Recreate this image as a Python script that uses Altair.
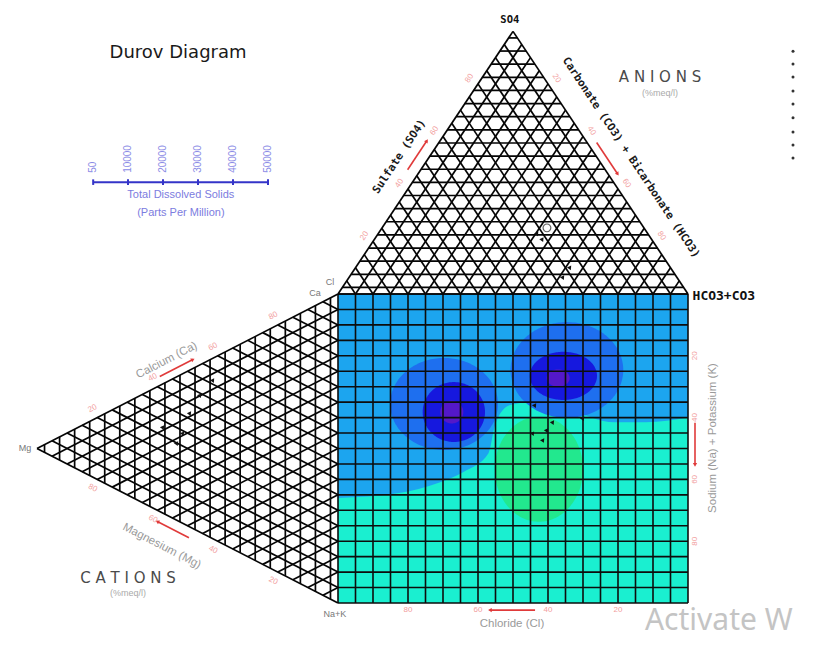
import altair as alt
import numpy as np
import pandas as pd

# ---------------- data (diagram units: the square is 0..100 x 0..100) ----------------
N_DIV = 20
TOP_APEX = (50.0, 185.0)    # SO4 vertex of the anion triangle
LEFT_APEX = (-86.0, 50.0)   # Mg vertex of the cation triangle

# filled contour zones of the square field
cyan_u = [0, 17, 29, 36, 43, 45, 49, 55, 66, 79, 88, 100]
cyan_v = [34, 35.5, 39, 42.5, 48.5, 58, 64, 65, 62.5, 58.5, 58.5, 60]
blob_name = ["green", "left_outer", "left_inner", "left_core", "right_outer", "right_inner", "right_core"]
blob_cu = [57.4, 30.3, 33.1, 32.5, 65.4, 64.4, 62.9]
blob_cv = [43.3, 64.4, 61.8, 61.8, 75.4, 73.5, 72.8]
blob_ru = [12.6, 15.4, 8.9, 3.3, 16.1, 9.6, 3.3]
blob_rv = [17.0, 14.9, 9.7, 3.7, 15.5, 7.8, 2.8]

tick_pct = [20, 40, 60, 80]
tds_values = [50, 10000, 20000, 30000, 40000, 50000]

# sample markers
top_mark_u = [56.9, 64.3, 66.3, 58.4]
top_mark_v = [119.7, 105.5, 108.7, 117.8]
top_ring_u = [59.7]
top_ring_v = [121.4]
sq_mark_u = [56.3, 55.7, 59.7, 61.4, 70.0, 58.6]
sq_mark_v = [64.1, 55.0, 56.0, 58.6, 59.9, 52.8]
left_mark_u = [-35.7, -39.4, -42.3, -44.3, -46.0, -50.0]
left_mark_v = [72.2, 67.3, 61.5, 55.0, 51.8, 57.0]
legend_dot_v = [178.6, 174.4, 170.2, 165.7, 161.5, 157.0, 152.4, 148.2, 144.0]

# ---------------- frame ----------------
W, H = 808, 630
PX_U, PX_V = 3.5, 3.09
X0, Y0 = 330.0, 595.0
XDOM = [-X0 / PX_U, (W - X0) / PX_U]
YDOM = [-(H - Y0) / PX_V, Y0 / PX_V]
xs = alt.Scale(domain=XDOM, nice=False, zero=False)
ys = alt.Scale(domain=YDOM, nice=False, zero=False)


def X(f):
    return alt.X(f, type="quantitative", scale=xs, axis=None)


def Y(f):
    return alt.Y(f, type="quantitative", scale=ys, axis=None)


def to_px(p):
    return np.array([X0 + p[0] * PX_U, Y0 - p[1] * PX_V])


def to_uv(q):
    return ((q[0] - X0) / PX_U, (Y0 - q[1]) / PX_V)


def along(P, Q, f, off):
    p, q = to_px(P), to_px(Q)
    d = q - p
    n = np.array([d[1], -d[0]]) / np.hypot(*d)
    pt = p + f * d + off * n
    ang = np.degrees(np.arctan2(d[1], d[0])) % 360
    if 90 < ang < 270:
        ang = (ang - 180) % 360
    return to_uv(pt), float(ang)


def bearing(P, Q):
    d = to_px(Q) - to_px(P)
    return float(np.degrees(np.arctan2(d[0], -d[1])) % 360)


layers = []

# ---------------- square field ----------------
sq = pd.DataFrame({"x": [0], "x2": [100], "y": [0], "y2": [100]})
layers.append(alt.Chart(sq).mark_rect(color="#1CA5EF").encode(
    x=X("x"), x2="x2", y=Y("y"), y2="y2"))
cy = pd.DataFrame({"x": cyan_u, "y": cyan_v, "y0": 0})
layers.append(alt.Chart(cy).mark_area(color="#1AEFD0", interpolate="monotone").encode(
    x=X("x"), y=Y("y"), y2="y0"))

blob_color = {"green": "#22E88E", "left_outer": "#1E6FEF", "left_inner": "#1618DE",
              "left_core": "#5418C9", "right_outer": "#1E6FEF", "right_inner": "#1618DE",
              "right_core": "#5418C9"}
for name, cu, cv, ru, rv in zip(blob_name, blob_cu, blob_cv, blob_ru, blob_rv):
    th = np.linspace(np.pi, 0, 91)
    df = pd.DataFrame({"x": cu + ru * np.cos(th), "y": cv - rv * np.sin(th), "y2": cv + rv * np.sin(th)})
    layers.append(alt.Chart(df).mark_area(color=blob_color[name]).encode(
        x=X("x"), y=Y("y"), y2="y2"))

# square grid
segs = []
for k in range(N_DIV + 1):
    s = 100 * k / N_DIV
    segs.append((s, 0, s, 100))
    segs.append((0, s, 100, s))
sq_grid = pd.DataFrame(segs, columns=["x", "y", "x2", "y2"])
layers.append(alt.Chart(sq_grid).mark_rule(color="#0d0d0d", strokeWidth=1.6).encode(
    x=X("x"), y=Y("y"), x2="x2", y2="y2"))

# ---------------- anion triangle ----------------
L, R, A = (0.0, 100.0), (100.0, 100.0), TOP_APEX


def top_pt(a, b):
    return (L[0] + b * (R[0] - L[0]) + a * (A[0] - L[0]),
            L[1] + b * (R[1] - L[1]) + a * (A[1] - L[1]))


tsegs = []
for k in range(0, N_DIV + 1):
    f = k / N_DIV
    p, q = top_pt(0, f), top_pt(1 - f, f)
    tsegs.append((*p, *q))
    p, q = top_pt(0, 1 - f), top_pt(1 - f, 0)
    tsegs.append((*p, *q))
for k in range(N_DIV):
    a = (k + 0.5) / N_DIV
    p, q = top_pt(a, 0), top_pt(a, 1 - a)
    tsegs.append((*p, *q))
tsegs.append((*top_pt(0, 0), *top_pt(0, 1)))

# ---------------- cation triangle ----------------
B, T, M = (0.0, 0.0), (0.0, 100.0), LEFT_APEX


def left_pt(t, m):
    return (B[0] + t * (T[0] - B[0]) + m * (M[0] - B[0]),
            B[1] + t * (T[1] - B[1]) + m * (M[1] - B[1]))


for k in range(0, N_DIV + 1):
    f = k / N_DIV
    p, q = left_pt(f, 0), left_pt(f, 1 - f)
    tsegs.append((*p, *q))
    p, q = left_pt(1 - f, 0), left_pt(0, 1 - f)
    tsegs.append((*p, *q))
for k in range(N_DIV):
    m = (k + 0.5) / N_DIV
    p, q = left_pt(0, m), left_pt(1 - m, m)
    tsegs.append((*p, *q))
tri_grid = pd.DataFrame(tsegs, columns=["x", "y", "x2", "y2"])
layers.append(alt.Chart(tri_grid).mark_rule(color="#050505", strokeWidth=1.7).encode(
    x=X("x"), y=Y("y"), x2="x2", y2="y2"))

# ---------------- markers ----------------
mk = pd.DataFrame({"x": top_mark_u + sq_mark_u + left_mark_u,
                   "y": top_mark_v + sq_mark_v + left_mark_v})
layers.append(alt.Chart(mk).mark_point(shape="triangle-up", filled=True, color="#111",
                                       size=22, angle=35, opacity=1).encode(x=X("x"), y=Y("y")))
ring = pd.DataFrame({"x": top_ring_u, "y": top_ring_v})
layers.append(alt.Chart(ring).mark_point(shape="circle", filled=False, color="#222",
                                         size=60, strokeWidth=1.2).encode(x=X("x"), y=Y("y")))
lg = pd.DataFrame({"x": [130.0] * len(legend_dot_v), "y": legend_dot_v})
layers.append(alt.Chart(lg).mark_circle(color="#333", size=9, opacity=1).encode(x=X("x"), y=Y("y")))

# ---------------- edge labels, ticks and arrows ----------------
RED_TXT = "#F2A0A0"
RED = "#E03A3A"
tick_rows, arrow_rows, head_rows = [], [], []
edge_specs = [(L, A), (A, R), (M, T), (B, M)]
for P, Q in edge_specs:
    for pct in tick_pct:
        (u, v), ang = along(P, Q, pct / 100, 10)
        tick_rows.append({"x": u, "y": v, "t": str(pct), "ang": ang})
for pct in tick_pct:
    tick_rows.append({"x": pct, "y": -2.3, "t": str(100 - pct), "ang": 0})
    tick_rows.append({"x": 102.0, "y": pct, "t": str(100 - pct), "ang": 270})

arrow_specs = [(L, A, 0.45, 0.56, 11), (A, R, 0.44, 0.56, 8),
               (M, T, 0.42, 0.53, 8), (B, M, 0.48, 0.585, 10)]
for P, Q, f1, f2, off in arrow_specs:
    (u1, v1), _ = along(P, Q, f1, off)
    (u2, v2), _ = along(P, Q, f2, off)
    arrow_rows.append({"x": u1, "y": v1, "x2": u2, "y2": v2})
    head_rows.append({"x": u2, "y": v2, "b": bearing((u1, v1), (u2, v2))})
for (u1, v1, u2, v2) in [(56.3, -2.3, 43.4, -2.3), (102.0, 58.3, 102.0, 44.7)]:
    arrow_rows.append({"x": u1, "y": v1, "x2": u2, "y2": v2})
    head_rows.append({"x": u2, "y": v2, "b": bearing((u1, v1), (u2, v2))})

layers.append(alt.Chart(pd.DataFrame(arrow_rows)).mark_rule(color=RED, strokeWidth=1.6).encode(
    x=X("x"), y=Y("y"), x2="x2", y2="y2"))
layers.append(alt.Chart(pd.DataFrame(head_rows)).mark_point(shape="triangle-up", filled=True,
                                                            color=RED, size=18, opacity=1).encode(
    x=X("x"), y=Y("y"), angle=alt.Angle("b:Q", scale=None)))
layers.append(alt.Chart(pd.DataFrame(tick_rows)).mark_text(
    color=RED_TXT, fontSize=8, font="Liberation Sans", baseline="middle").encode(
    x=X("x"), y=Y("y"), text="t:N", angle=alt.Angle("ang:Q", scale=None)))

# titles along the edges
bold_rows = []
(u, v), ang = along(L, A, 0.47, 25)
bold_rows.append({"x": u, "y": v, "t": "Sulfate (SO4)", "ang": ang})
(u, v), ang = along(A, R, 0.54, 28)
bold_rows.append({"x": u, "y": v, "t": "Carbonate (CO3) + Bicarbonate (HCO3)", "ang": ang})
layers.append(alt.Chart(pd.DataFrame(bold_rows)).mark_text(
    color="#1a1a1a", fontSize=11, font="DejaVu Sans Mono", fontWeight="bold", baseline="middle").encode(
    x=X("x"), y=Y("y"), text="t:N", angle=alt.Angle("ang:Q", scale=None)))

gray_rows = []
(u, v), ang = along(M, T, 0.46, 19)
gray_rows.append({"x": u, "y": v, "t": "Calcium (Ca)", "ang": ang})
(u, v), ang = along(B, M, 0.54, 30)
gray_rows.append({"x": u, "y": v, "t": "Magnesium (Mg)", "ang": ang})
gray_rows.append({"x": 49.7, "y": -6.8, "t": "Chloride (Cl)", "ang": 0})
gray_rows.append({"x": 107.1, "y": 53.4, "t": "Sodium (Na) + Potassium (K)", "ang": 270})
layers.append(alt.Chart(pd.DataFrame(gray_rows)).mark_text(
    color="#9a9a9a", fontSize=11.5, font="Liberation Sans", baseline="middle").encode(
    x=X("x"), y=Y("y"), text="t:N", angle=alt.Angle("ang:Q", scale=None)))

vert = pd.DataFrame({"x": [-2.3, -6.6, -89.4, -0.9], "y": [103.9, 100.3, 50.2, -3.6],
                     "t": ["Cl", "Ca", "Mg", "Na+K"]})
layers.append(alt.Chart(vert).mark_text(color="#777", fontSize=9, font="Liberation Sans",
                                        baseline="middle").encode(x=X("x"), y=Y("y"), text="t:N"))

so4 = pd.DataFrame({"x": [49.1], "y": [188.7], "t": ["SO4"]})
layers.append(alt.Chart(so4).mark_text(color="#111", fontSize=10.5, font="DejaVu Sans Mono",
                                       fontWeight="bold", baseline="middle").encode(
    x=X("x"), y=Y("y"), text="t:N"))
hco3 = pd.DataFrame({"x": [101.3], "y": [99.4], "t": ["HCO3+CO3"]})
layers.append(alt.Chart(hco3).mark_text(color="#111", fontSize=13, font="DejaVu Sans Mono",
                                        fontWeight="bold", align="left", baseline="middle").encode(
    x=X("x"), y=Y("y"), text="t:N"))

# headings
heads = pd.DataFrame({"x": [92.0, -60.0], "y": [170.2, 8.1], "t": ["A N I O N S", "C A T I O N S"]})
layers.append(alt.Chart(heads).mark_text(color="#4a4a4a", fontSize=15, font="DejaVu Sans",
                                         baseline="middle").encode(x=X("x"), y=Y("y"), text="t:N"))
units = pd.DataFrame({"x": [92.0, -60.0], "y": [165.0, 3.2], "t": ["(%meq/l)", "(%meq/l)"]})
layers.append(alt.Chart(units).mark_text(color="#aaa", fontSize=9, font="Liberation Sans",
                                         baseline="middle").encode(x=X("x"), y=Y("y"), text="t:N"))

title = pd.DataFrame({"x": [-45.7], "y": [178.0], "t": ["Durov Diagram"]})
layers.append(alt.Chart(title).mark_text(color="#1a1a1a", fontSize=18, font="DejaVu Sans",
                                         baseline="middle").encode(x=X("x"), y=Y("y"), text="t:N"))

# ---------------- TDS scale ----------------
TDS_V = 136.2
tds_u = [-70 + 50 * val / 50000 for val in tds_values]
tds_line = pd.DataFrame({"x": [tds_u[0]], "x2": [tds_u[-1]], "y": [TDS_V], "y2": [TDS_V]})
layers.append(alt.Chart(tds_line).mark_rule(color="#3434C8", strokeWidth=2).encode(
    x=X("x"), x2="x2", y=Y("y"), y2="y2"))
tds_ticks = pd.DataFrame({"x": tds_u, "y": [TDS_V - 0.9] * 6, "y2": [TDS_V + 0.9] * 6})
layers.append(alt.Chart(tds_ticks).mark_rule(color="#3434C8", strokeWidth=2).encode(
    x=X("x"), y=Y("y"), y2="y2"))
tds_lab = pd.DataFrame({"x": tds_u, "y": [TDS_V + 3.0] * 6, "t": [str(v) for v in tds_values]})
layers.append(alt.Chart(tds_lab).mark_text(color="#8C8CE6", fontSize=10, font="Liberation Sans",
                                           angle=270, align="left", baseline="middle").encode(
    x=X("x"), y=Y("y"), text="t:N"))
tds_txt = pd.DataFrame({"x": [-44.9, -44.9], "y": [132.0, 126.2],
                        "t": ["Total Dissolved Solids", "(Parts Per Million)"]})
layers.append(alt.Chart(tds_txt).mark_text(color="#7C7CE0", fontSize=11, font="Liberation Sans",
                                           baseline="middle").encode(x=X("x"), y=Y("y"), text="t:N"))

# screen watermark
wm = pd.DataFrame({"x": [87.7], "y": [-8.7], "t": ["Activate W"]})
layers.append(alt.Chart(wm).mark_text(color="#C4C4C4", fontSize=30, font="Noto Sans",
                                      align="left", baseline="alphabetic").encode(
    x=X("x"), y=Y("y"), text="t:N"))

chart = alt.layer(*layers).properties(
    width=W, height=H, padding=0, autosize=alt.AutoSizeParams(type="none"),
    background="white").configure_view(stroke=None)

chart.save("out.html", embed_options={"renderer": "svg", "actions": False})
